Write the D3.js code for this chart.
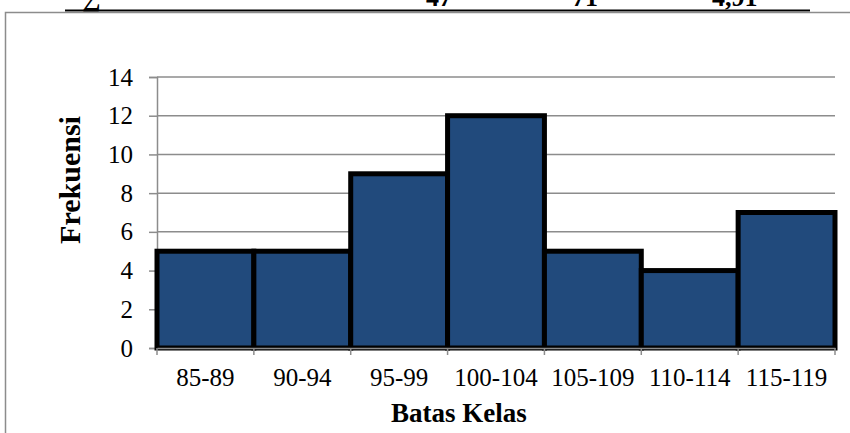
<!DOCTYPE html>
<html>
<head>
<meta charset="utf-8">
<script src="https://cdn.jsdelivr.net/npm/d3@7"></script>
<style>
  body { margin: 0; background: #fff; }
  svg { display: block; }
  svg text { font-family: "Liberation Serif", "Times New Roman", serif; }
</style>
</head>
<body>
<div id="chart"></div>
<script>
// data
const kelas = ['85-89', '90-94', '95-99', '100-104', '105-109', '110-114', '115-119'];
const frekuensi = [5, 5, 9, 12, 5, 4, 7];
const yTicks = [0, 2, 4, 6, 8, 10, 12, 14];
// clipped table row above the chart
const tableBits = [
  { x: 82, t: '\u2211' },
  { x: 426, t: '47' },
  { x: 572, t: '71' },
  { x: 712, t: '4,91' }
];

const W = 850, H = 433;
const svg = d3.select('#chart').append('svg')
  .attr('width', W)
  .attr('height', H);

// remains of the table above
svg.selectAll('.tb')
  .data(tableBits)
  .enter()
  .append('text')
  .attr('class', 'tb')
  .attr('x', d => d.x)
  .attr('y', 6)
  .style('font-size', '26px')
  .style('font-weight', 'bold')
  .text(d => d.t);

svg.append('line')
  .attr('x1', 65).attr('x2', 810)
  .attr('y1', 10.5).attr('y2', 10.5)
  .attr('stroke', '#000')
  .attr('stroke-width', 2);

// chart frame
svg.append('rect')
  .attr('x', 5.5)
  .attr('y', 12.5)
  .attr('width', 900)
  .attr('height', 500)
  .attr('fill', 'none')
  .attr('stroke', '#8c8c8c')
  .attr('stroke-width', 1.5);

const xScale = d3.scaleBand()
  .domain(kelas)
  .range([157, 835])
  .padding(0);

const yScale = d3.scaleLinear()
  .domain([0, 14])
  .range([348, 77]);

// gridlines
svg.selectAll('.grid')
  .data(yTicks.filter(d => d > 0))
  .enter()
  .append('line')
  .attr('class', 'grid')
  .attr('x1', 157)
  .attr('x2', 835)
  .attr('y1', d => yScale(d))
  .attr('y2', d => yScale(d))
  .attr('stroke', '#8c8c8c')
  .attr('stroke-width', 1.5);

// y axis
const yAxis = svg.append('g')
  .attr('transform', 'translate(157,0)')
  .call(d3.axisLeft(yScale).tickValues(yTicks).tickSize(8).tickPadding(16))
  .attr('font-family', 'Liberation Serif, serif')
  .attr('font-size', 25);
yAxis.select('.domain').attr('stroke', '#8c8c8c').attr('stroke-width', 1.5);
yAxis.selectAll('.tick line').attr('stroke', '#8c8c8c').attr('stroke-width', 1.5);
yAxis.selectAll('text').attr('fill', '#000');

// bars
svg.selectAll('.bar')
  .data(frekuensi)
  .enter()
  .append('rect')
  .attr('class', 'bar')
  .attr('x', (d, i) => xScale(kelas[i]))
  .attr('y', d => yScale(d))
  .attr('width', xScale.bandwidth())
  .attr('height', d => yScale(0) - yScale(d))
  .attr('fill', '#214a7c')
  .attr('stroke', '#000')
  .attr('stroke-width', 5);

// x axis
const xAxis = svg.append('g')
  .attr('transform', 'translate(0,348)')
  .call(d3.axisBottom(xScale).tickSize(0).tickPadding(20))
  .attr('font-family', 'Liberation Serif, serif')
  .attr('font-size', 25);
xAxis.select('.domain').attr('stroke', '#8c8c8c').attr('stroke-width', 1.5);
xAxis.selectAll('text').attr('fill', '#000');

// tick marks on the band edges
const edges = kelas.map(k => xScale(k)).concat([xScale.range()[1]]);
svg.selectAll('.xtick')
  .data(edges)
  .enter()
  .append('line')
  .attr('class', 'xtick')
  .attr('x1', d => d).attr('x2', d => d)
  .attr('y1', 348).attr('y2', 355)
  .attr('stroke', '#8c8c8c')
  .attr('stroke-width', 1.5);

// axis titles
svg.append('text')
  .attr('x', 459)
  .attr('y', 422)
  .attr('text-anchor', 'middle')
  .style('font-size', '27px')
  .style('font-weight', 'bold')
  .text('Batas Kelas');

svg.append('text')
  .attr('transform', 'translate(80,180) rotate(-90)')
  .attr('text-anchor', 'middle')
  .style('font-size', '30px')
  .style('font-weight', 'bold')
  .text('Frekuensi');
</script>
</body>
</html>
